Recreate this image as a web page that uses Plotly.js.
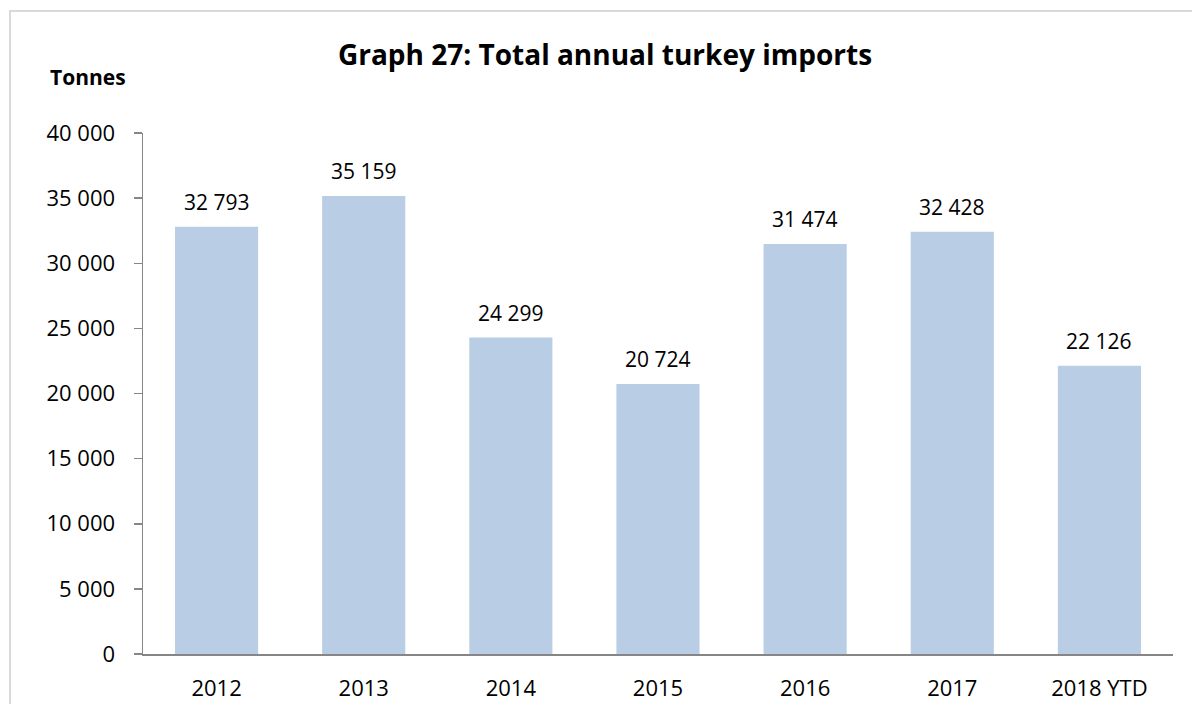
<!DOCTYPE html>
<html>
<head>
<meta charset="utf-8">
<script src="https://cdn.plot.ly/plotly-3.0.1.min.js"></script>
<style>
  html, body { margin: 0; padding: 0; background: #ffffff; width: 1192px; height: 704px; overflow: hidden; }
  #frame { position: absolute; left: 9px; top: 10px; width: 1220px; height: 740px; border: 2px solid #d9d9d9; box-sizing: border-box; z-index: 0; }
  #chart { position: absolute; left: 0; top: 0; width: 1192px; height: 704px; z-index: 1; }
</style>
</head>
<body>
<div id="frame"></div>
<div id="chart"></div>
<script>
const categories = ["2012", "2013", "2014", "2015", "2016", "2017", "2018 YTD"];
const imports = [32793, 35159, 24299, 20724, 31474, 32428, 22126];
const yTicks = [0, 5000, 10000, 15000, 20000, 25000, 30000, 35000, 40000];

const FONT = "'Open Sans', 'Noto Sans', sans-serif";
const fmt = v => String(v).replace(/\B(?=(\d{3})+(?!\d))/g, " ");

const trace = {
  type: "bar",
  x: categories,
  y: imports,
  marker: { color: "#b9cde5" },
  hoverinfo: "skip"
};

const labelAnnotations = categories.map((c, i) => ({
  x: i, y: imports[i], xref: "x", yref: "y",
  text: fmt(imports[i]), showarrow: false,
  yanchor: "bottom", yshift: 9,
  font: { family: FONT, size: 21, color: "#000000" }
}));

const layout = {
  width: 1192, height: 704,
  margin: { l: 143, r: 19, t: 133, b: 50 },
  paper_bgcolor: "rgba(0,0,0,0)",
  plot_bgcolor: "rgba(0,0,0,0)",
  showlegend: false,
  bargap: 0.435,
  separators: ", ",
  title: {
    text: "<b>Graph 27: Total annual turkey imports</b>",
    font: { family: FONT, size: 28, color: "#000000" },
    x: 605 / 1192, xanchor: "center",
    y: 1 - 55 / 704, yanchor: "middle"
  },
  xaxis: {
    type: "category",
    range: [-0.5, categories.length - 0.5],
    showline: true, linecolor: "#868686", linewidth: 1.5,
    ticks: "", showgrid: false, zeroline: false,
    tickfont: { family: FONT, size: 22, color: "#000000" },
    ticklabelstandoff: 14
  },
  yaxis: {
    range: [0, 40000],
    tickvals: yTicks,
    ticktext: yTicks.map(fmt),
    showline: true, linecolor: "#868686", linewidth: 1.5,
    ticks: "outside", ticklen: 8, tickcolor: "#868686", tickwidth: 1.5,
    showgrid: false, zeroline: false,
    tickfont: { family: FONT, size: 22, color: "#000000" },
    ticklabelstandoff: 14
  },
  annotations: labelAnnotations.concat([{
    text: "<b>Tonnes</b>", xref: "paper", yref: "paper",
    x: -55 / 1030, y: 1 + 56 / 521, xanchor: "center", yanchor: "middle",
    showarrow: false,
    font: { family: FONT, size: 21, color: "#000000" }
  }])
};

Plotly.newPlot("chart", [trace], layout, { displayModeBar: false, staticPlot: true });
</script>
</body>
</html>
